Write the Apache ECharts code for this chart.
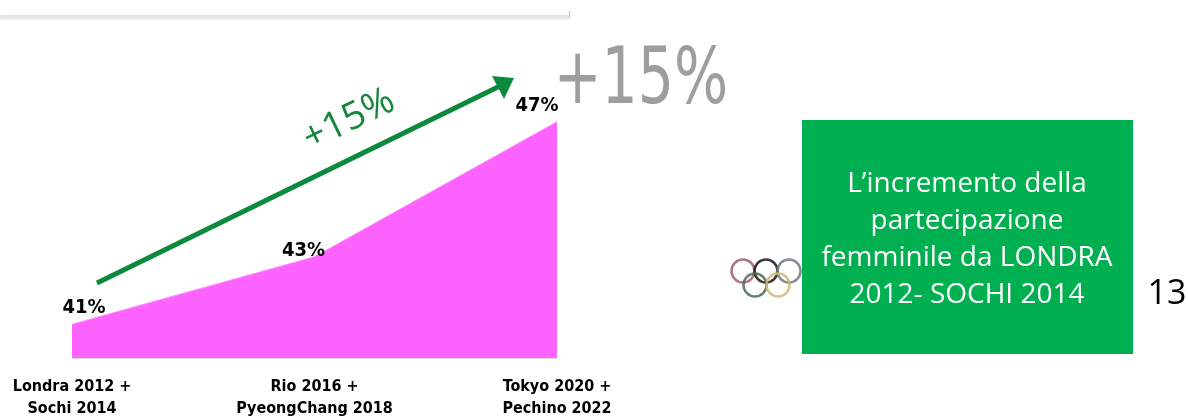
<!DOCTYPE html>
<html>
<head>
<meta charset="utf-8">
<script src="https://cdn.jsdelivr.net/npm/echarts@6/dist/echarts.min.js"></script>
<style>
html,body{margin:0;padding:0;background:#fff;}
#chart{width:1188px;height:416px;}
</style>
</head>
<body>
<div id="chart"></div>
<script>
const categories = ['Londra 2012 +\nSochi 2014', 'Rio 2016 +\nPyeongChang 2018', 'Tokyo 2020 +\nPechino 2022'];
const participation = [41, 43, 47];
const arrowLabel = '+15%';
const bigLabel = '+15%';
const boxText = 'L\u2019incremento della\npartecipazione\nfemminile da LONDRA\n2012- SOCHI 2014';
const pageNumber = '13';

const labelOffsets = [[12, 2], [-11, 13], [-20, 3]];
const condensed = '"Liberation Sans Narrow", "DejaVu Sans Condensed", "Roboto Condensed", sans-serif';

const chart = echarts.init(document.getElementById('chart'));
chart.setOption({
  animation: false,
  grid: { left: 72, right: 631, top: 88, bottom: 58, outerBoundsMode: 'none', containLabel: false },
  xAxis: {
    type: 'category',
    data: categories,
    boundaryGap: false,
    axisLine: { show: true, lineStyle: { color: '#DADADA', width: 1 } },
    axisTick: { show: false },
    axisLabel: {
      color: '#000', fontFamily: condensed, fontWeight: 'bold', fontSize: 16,
      lineHeight: 22, margin: 18, interval: 0
    }
  },
  yAxis: {
    type: 'value', min: 40, max: 48,
    show: false, splitLine: { show: false }
  },
  series: [{
    type: 'line',
    data: participation.map((v, i) => ({
      value: v,
      label: { offset: labelOffsets[i] }
    })),
    symbol: 'circle',
    symbolSize: 1,
    showSymbol: true,
    itemStyle: { color: 'rgba(0,0,0,0)' },
    lineStyle: { color: '#FF8CFF', width: 1 },
    areaStyle: { color: '#FF63FF', opacity: 1 },
    label: {
      show: true, position: 'top', distance: 8,
      formatter: p => p.value + '%',
      color: '#000', fontFamily: condensed, fontWeight: 'bold', fontSize: 20
    }
  }],
  graphic: [
    { type: 'rect', shape: { x: 0, y: 15, width: 570, height: 3 }, style: { fill: '#E4E4E4', shadowBlur: 3, shadowColor: 'rgba(0,0,0,0.15)', shadowOffsetY: 1 } },
    { type: 'rect', shape: { x: 569, y: 11, width: 1, height: 6 }, style: { fill: '#E79BE7' } },
    { type: 'line', shape: { x1: 97, y1: 283, x2: 500, y2: 86 }, style: { stroke: '#0B8A3E', lineWidth: 5 } },
    { type: 'polygon', shape: { points: [[514, 78], [492, 76], [504, 99]] }, style: { fill: '#0B8A3E' } },
    { type: 'text', x: 349, y: 120, rotation: 26 * Math.PI / 180,
      style: { text: arrowLabel, fill: '#13883C', font: '38px "Liberation Sans Narrow", "Open Sans", sans-serif', align: 'center', verticalAlign: 'middle', shadowBlur: 3, shadowColor: 'rgba(0,0,0,0.3)', shadowOffsetX: 1, shadowOffsetY: 1 } },
    { type: 'text', x: 641, y: 83, scaleX: 0.73,
      style: { text: bigLabel, fill: '#999999', font: '78px "DejaVu Sans", sans-serif', align: 'center', verticalAlign: 'middle', opacity: 0.95, shadowBlur: 2, shadowColor: 'rgba(150,150,150,0.6)' } },
    { type: 'circle', shape: { cx: 743, cy: 271, r: 11.5 }, style: { fill: 'none', stroke: '#A65B68', lineWidth: 2.5, opacity: 0.85 } },
    { type: 'circle', shape: { cx: 766, cy: 271, r: 11.5 }, style: { fill: 'none', stroke: '#222', lineWidth: 2.5, opacity: 0.9 } },
    { type: 'circle', shape: { cx: 789, cy: 271, r: 11.5 }, style: { fill: 'none', stroke: '#6A7A84', lineWidth: 2.5, opacity: 0.85 } },
    { type: 'circle', shape: { cx: 755, cy: 285, r: 11.5 }, style: { fill: 'none', stroke: '#4F6A55', lineWidth: 2.5, opacity: 0.85 } },
    { type: 'circle', shape: { cx: 778, cy: 285, r: 11.5 }, style: { fill: 'none', stroke: '#CDB878', lineWidth: 2.5, opacity: 0.85 } },
    { type: 'rect', shape: { x: 802, y: 120, width: 331, height: 234 }, style: { fill: '#00B050' } },
    { type: 'text', x: 967, y: 240,
      style: { text: boxText, fill: '#fff', font: '28px "Open Sans", sans-serif', lineHeight: 37, align: 'center', verticalAlign: 'middle' } },
    { type: 'text', x: 1167, y: 294,
      style: { text: pageNumber, fill: '#000', font: '34px "Open Sans", sans-serif', align: 'center', verticalAlign: 'middle' } }
  ]
});
</script>
</body>
</html>
